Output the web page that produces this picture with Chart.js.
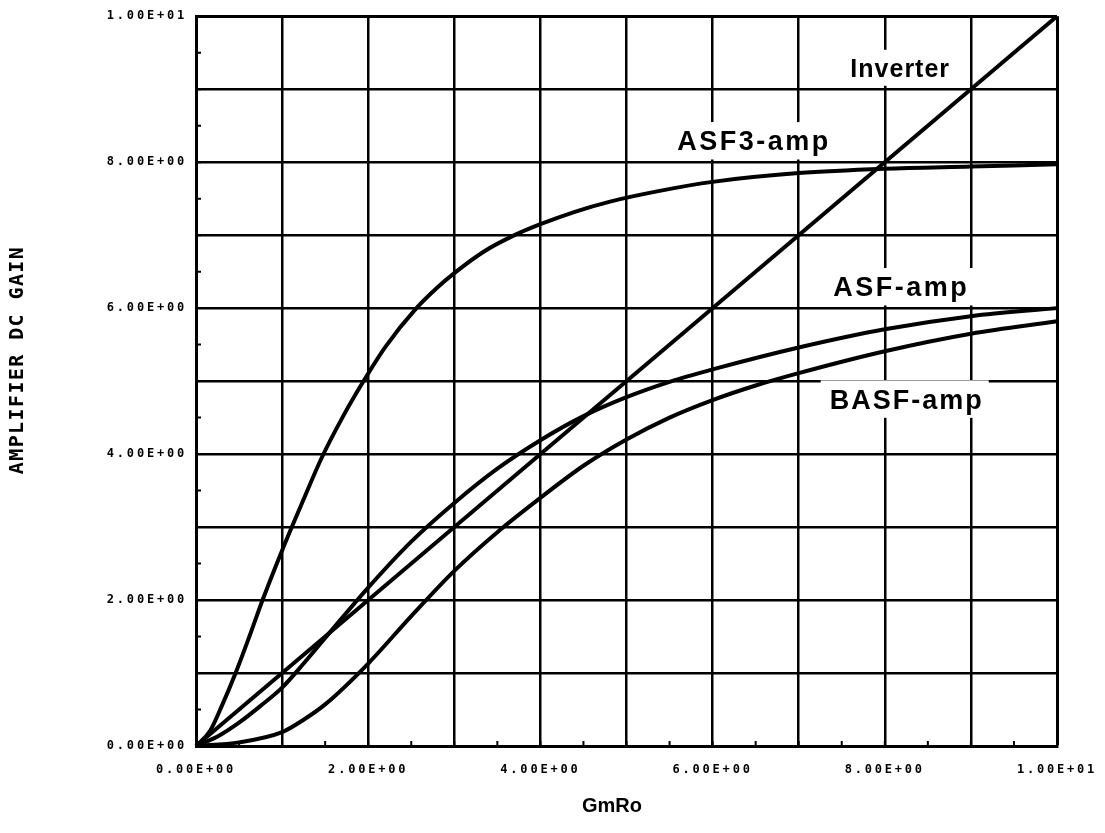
<!DOCTYPE html>
<html>
<head>
<meta charset="utf-8">
<script src="https://cdn.jsdelivr.net/npm/chart.js@4/dist/chart.umd.min.js"></script>
<style>
  html, body { margin: 0; padding: 0; background: #fff; }
  #wrap { width: 1105px; height: 833px; }
</style>
</head>
<body>
<div id="wrap"><canvas id="c" width="1105" height="833"></canvas></div>
<script>
// GmRo values and DC gain of each amplifier
const inverterX = [0, 10];
const inverterY = [0, 10];

const asf3X = [0, 0.16, 0.3, 0.46, 0.62, 0.77, 1, 1.25, 1.46, 1.7, 1.92, 2.2, 2.56, 2.8, 3, 3.35, 3.7, 4, 4.4, 4.81, 5.4, 6, 7, 8, 9, 10];
const asf3Y = [0, 0.2, 0.55, 1.0, 1.5, 1.99, 2.68, 3.38, 3.95, 4.5, 4.95, 5.47, 6.0, 6.28, 6.48, 6.78, 7.0, 7.15, 7.32, 7.46, 7.61, 7.73, 7.85, 7.91, 7.94, 7.97];

const asfX = [0, 0.25, 0.5, 0.75, 1, 1.25, 1.5, 2, 2.5, 3, 3.5, 4, 4.5, 5, 5.5, 6, 7, 8, 9, 10];
const asfY = [0, 0.13, 0.32, 0.55, 0.8, 1.13, 1.48, 2.17, 2.8, 3.33, 3.8, 4.19, 4.52, 4.78, 4.99, 5.16, 5.46, 5.71, 5.89, 6.0];

const basfX = [0, 0.5, 1, 1.25, 1.5, 2, 2.5, 3, 3.5, 4, 4.5, 5, 5.5, 6, 6.5, 7, 8, 9, 10];
const basfY = [0, 0.05, 0.19, 0.36, 0.57, 1.13, 1.78, 2.4, 2.93, 3.4, 3.84, 4.2, 4.5, 4.74, 4.94, 5.11, 5.41, 5.65, 5.82];

// labelled ticks (grid lines fall on every unit)
const xTickValues = [0, 2, 4, 6, 8, 10];
const xTickLabels = ['0.00E+00', '2.00E+00', '4.00E+00', '6.00E+00', '8.00E+00', '1.00E+01'];
const yTickValues = [0, 2, 4, 6, 8, 10];
const yTickLabels = ['0.00E+00', '2.00E+00', '4.00E+00', '6.00E+00', '8.00E+00', '1.00E+01'];

const seriesNames = ['Inverter', 'ASF3-amp', 'ASF-amp', 'BASF-amp'];

const toPoints = (xs, ys) => xs.map((x, i) => ({ x, y: ys[i] }));

const INK = '#000000';
const TICK_FONT = "'DejaVu Sans Mono', monospace";
const LABEL_FONT = "'Liberation Sans', Arial, sans-serif";

// curve names, written on white patches inside the plot (anchored in data units)
const curveLabels = [
  { text: seriesNames[0], x: 7.60, y: 9.17, size: 25, spacing: 1 },
  { text: seriesNames[1], x: 5.59, y: 8.16, size: 27, spacing: 2.5 },
  { text: seriesNames[2], x: 7.40, y: 6.16, size: 27, spacing: 2.5 },
  { text: seriesNames[3], x: 7.36, y: 4.62, size: 27, spacing: 2 }
];

const tickSpacing = {
  id: 'tickSpacing',
  beforeDraw(chart) { chart.ctx.letterSpacing = '2.8px'; },
  afterDraw(chart) { chart.ctx.letterSpacing = '0px'; }
};

const curveLabelPlugin = {
  id: 'curveLabels',
  beforeDatasetsDraw(chart) {
    const { ctx, scales } = chart;
    ctx.save();
    curveLabels.forEach(l => {
      ctx.font = `bold ${l.size}px ${LABEL_FONT}`;
      ctx.letterSpacing = l.spacing + 'px';
      const px = scales.x.getPixelForValue(l.x);
      const py = scales.y.getPixelForValue(l.y);
      const w = ctx.measureText(l.text).width;
      const cap = l.size * 0.72;
      ctx.fillStyle = '#ffffff';
      ctx.fillRect(px - 9, py - cap - 9, w + 14, cap + 18);
      ctx.fillStyle = INK;
      ctx.textAlign = 'left';
      ctx.textBaseline = 'alphabetic';
      ctx.fillText(l.text, px, py);
    });
    ctx.restore();
  }
};

const framePlugin = {
  id: 'frameExtras',
  afterDraw(chart) {
    const { ctx, chartArea, scales } = chart;
    ctx.save();
    ctx.letterSpacing = '0px';
    // short inward marks every half unit
    ctx.strokeStyle = INK;
    ctx.lineWidth = 2;
    ctx.beginPath();
    for (let v = 0.5; v < 10; v += 0.5) {
      const py = scales.y.getPixelForValue(v);
      ctx.moveTo(chartArea.left, py);
      ctx.lineTo(chartArea.left + 5, py);
      const px = scales.x.getPixelForValue(v);
      ctx.moveTo(px, chartArea.bottom);
      ctx.lineTo(px, chartArea.bottom - 5);
    }
    ctx.stroke();

    // axis titles
    ctx.fillStyle = INK;
    ctx.textAlign = 'center';
    ctx.textBaseline = 'middle';
    ctx.font = `bold 20px ${TICK_FONT}`;
    ctx.letterSpacing = '1.4px';
    ctx.save();
    ctx.translate(18, 360);
    ctx.rotate(-Math.PI / 2);
    ctx.fillText('AMPLIFIER DC GAIN', 0, 0);
    ctx.restore();

    ctx.letterSpacing = '0px';
    ctx.font = `bold 20px ${LABEL_FONT}`;
    ctx.fillText('GmRo', 612, 806);
    ctx.restore();
  }
};

const lineStyle = {
  borderColor: INK,
  borderWidth: 4,
  pointRadius: 0,
  fill: false,
  cubicInterpolationMode: 'monotone',
  clip: 6
};

new Chart(document.getElementById('c'), {
  type: 'line',
  data: {
    datasets: [
      { label: seriesNames[0], data: toPoints(inverterX, inverterY), ...lineStyle },
      { label: seriesNames[1], data: toPoints(asf3X, asf3Y), ...lineStyle },
      { label: seriesNames[2], data: toPoints(asfX, asfY), ...lineStyle },
      { label: seriesNames[3], data: toPoints(basfX, basfY), ...lineStyle }
    ]
  },
  options: {
    responsive: false,
    animation: false,
    devicePixelRatio: 1,
    layout: { padding: { top: 12, right: 48, bottom: 0, left: 0 } },
    plugins: { legend: { display: false }, tooltip: { enabled: false }, title: { display: false } },
    scales: {
      x: {
        type: 'linear', min: 0, max: 10, position: 'bottom',
        border: { display: true, color: INK, width: 3 },
        grid: { color: INK, lineWidth: c => (c.tick && c.tick.value === 10 ? 3 : 2.5), drawTicks: false },
        ticks: {
          stepSize: 1, autoSkip: false, maxRotation: 0, padding: 17, color: INK,
          font: { family: TICK_FONT, weight: 'bold', size: 12 },
          callback: v => { const i = xTickValues.indexOf(v); return i >= 0 ? xTickLabels[i] : ''; }
        },
        afterFit(s) { s.height = 87; }
      },
      y: {
        type: 'linear', min: 0, max: 10, position: 'left',
        border: { display: true, color: INK, width: 3 },
        grid: { color: INK, lineWidth: c => (c.tick && c.tick.value === 10 ? 3 : 2.5), drawTicks: false },
        ticks: {
          stepSize: 1, autoSkip: false, padding: 9, color: INK,
          font: { family: TICK_FONT, weight: 'bold', size: 12 },
          callback: v => { const i = yTickValues.indexOf(v); return i >= 0 ? yTickLabels[i] : ''; }
        },
        afterFit(s) { s.width = 196; }
      }
    }
  },
  plugins: [tickSpacing, curveLabelPlugin, framePlugin]
});
</script>
</body>
</html>
